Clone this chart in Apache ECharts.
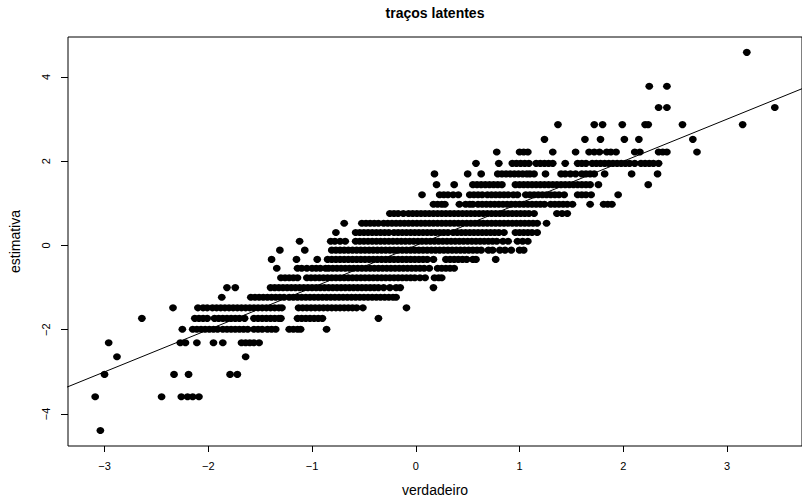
<!DOCTYPE html>
<html><head><meta charset="utf-8">
<script src="https://cdn.jsdelivr.net/npm/echarts@6/dist/echarts.min.js"></script>
<style>html,body{margin:0;padding:0;background:#fff}#c{width:802px;height:502px}</style>
</head><body><div id="c"></div>
<script>
const chartTitle = 'traços latentes';
const xName = 'verdadeiro';
const yName = 'estimativa';
const xTicks = [-3, -2, -1, 0, 1, 2, 3];
const yTicks = [-4, -2, 0, 2, 4];

// discrete estimate levels (estimativa) and the true values (verdadeiro) of the points at each level
const estimativaLevels = [4.585, 3.78, 3.275, 2.87, 2.52, 2.22, 1.95, 1.70, 1.445, 1.205, 0.98, 0.76, 0.53, 0.31, 0.10, -0.11, -0.33, -0.54, -0.765, -1.00, -1.23, -1.48, -1.73, -1.99, -2.31, -2.64, -3.06, -3.59, -4.39];
const verdadeiroPorNivel = [
  [3.19],
  [2.25, 2.42],
  [2.34, 2.42, 3.46],
  [1.37, 1.72, 1.80, 1.99, 2.21, 2.24, 2.57, 3.15],
  [1.24, 1.63, 1.78, 2.01, 2.15, 2.67],
  [0.78, 1.00, 1.04, 1.08, 1.32, 1.54, 1.67, 1.72, 1.77, 1.84, 1.88, 1.93, 2.11, 2.16, 2.34, 2.38, 2.42, 2.71],
  [0.58, 0.80, 0.93, 0.97, 1.01, 1.05, 1.09, 1.16, 1.20, 1.24, 1.28, 1.32, 1.44, 1.56, 1.60, 1.64, 1.70, 1.74, 1.78, 1.82, 1.86, 1.90, 1.94, 1.98, 2.02, 2.06, 2.11, 2.17, 2.21, 2.25, 2.29, 2.34],
  [0.18, 0.50, 0.63, 0.79, 0.83, 0.87, 0.91, 0.95, 0.99, 1.03, 1.07, 1.10, 1.14, 1.25, 1.40, 1.44, 1.49, 1.54, 1.60, 1.64, 1.68, 1.72, 1.82, 2.08, 2.33],
  [0.20, 0.37, 0.55, 0.59, 0.63, 0.67, 0.71, 0.75, 0.79, 0.83, 0.96, 1.00, 1.04, 1.08, 1.12, 1.16, 1.20, 1.24, 1.28, 1.32, 1.36, 1.40, 1.44, 1.48, 1.52, 1.56, 1.60, 1.64, 1.68, 1.76, 2.24],
  [0.06, 0.23, 0.27, 0.31, 0.36, 0.41, 0.52, 0.56, 0.60, 0.64, 0.69, 0.73, 0.77, 0.81, 0.85, 0.89, 0.94, 0.98, 1.06, 1.10, 1.14, 1.18, 1.22, 1.26, 1.30, 1.34, 1.38, 1.43, 1.56, 1.60, 1.64, 1.69, 1.95],
  [0.17, 0.21, 0.25, 0.28, 0.42, 0.48, 0.52, 0.55, 0.60, 0.64, 0.68, 0.72, 0.76, 0.80, 0.84, 0.88, 0.92, 0.96, 1.00, 1.04, 1.08, 1.12, 1.16, 1.20, 1.24, 1.30, 1.34, 1.38, 1.42, 1.46, 1.51, 1.68, 1.81, 1.85, 1.89],
  [-0.25, -0.21, -0.17, -0.12, -0.07, -0.03, 0.01, 0.05, 0.09, 0.13, 0.17, 0.21, 0.25, 0.29, 0.33, 0.37, 0.41, 0.45, 0.49, 0.53, 0.57, 0.61, 0.65, 0.69, 0.73, 0.77, 0.81, 0.85, 0.89, 0.93, 0.97, 1.01, 1.05, 1.09, 1.14, 1.36, 1.41, 1.46],
  [-0.69, -0.52, -0.48, -0.44, -0.40, -0.36, -0.31, -0.27, -0.23, -0.19, -0.15, -0.11, -0.07, -0.03, 0.01, 0.05, 0.09, 0.13, 0.17, 0.21, 0.25, 0.29, 0.33, 0.37, 0.41, 0.45, 0.49, 0.53, 0.57, 0.61, 0.65, 0.69, 0.73, 0.77, 0.81, 0.85, 0.89, 0.93, 0.97, 1.01, 1.05, 1.09, 1.13, 1.17, 1.26],
  [-0.77, -0.58, -0.54, -0.50, -0.46, -0.42, -0.38, -0.34, -0.30, -0.26, -0.21, -0.17, -0.13, -0.09, -0.05, -0.01, 0.03, 0.07, 0.11, 0.15, 0.19, 0.23, 0.27, 0.31, 0.36, 0.40, 0.44, 0.48, 0.52, 0.56, 0.60, 0.64, 0.68, 0.72, 0.76, 0.80, 0.85, 0.96, 1.00, 1.04, 1.08, 1.12, 1.17],
  [-1.12, -0.82, -0.78, -0.73, -0.68, -0.58, -0.54, -0.50, -0.46, -0.42, -0.38, -0.34, -0.30, -0.26, -0.22, -0.18, -0.14, -0.10, -0.06, -0.02, 0.02, 0.06, 0.10, 0.14, 0.18, 0.22, 0.26, 0.30, 0.34, 0.38, 0.42, 0.46, 0.50, 0.54, 0.58, 0.62, 0.66, 0.70, 0.74, 0.78, 0.84, 0.89, 0.98, 1.03, 1.08],
  [-1.31, -1.07, -0.81, -0.77, -0.73, -0.69, -0.65, -0.61, -0.57, -0.53, -0.49, -0.45, -0.41, -0.37, -0.33, -0.29, -0.25, -0.21, -0.17, -0.13, -0.09, -0.05, -0.01, 0.03, 0.07, 0.11, 0.15, 0.19, 0.23, 0.27, 0.31, 0.35, 0.39, 0.43, 0.47, 0.51, 0.55, 0.59, 0.63, 0.70, 0.74, 0.81, 0.86, 0.92, 1.00, 1.04],
  [-1.39, -1.15, -0.95, -0.85, -0.81, -0.77, -0.73, -0.69, -0.65, -0.61, -0.57, -0.53, -0.49, -0.45, -0.41, -0.37, -0.33, -0.29, -0.25, -0.21, -0.17, -0.13, -0.09, -0.05, -0.01, 0.03, 0.07, 0.11, 0.17, 0.29, 0.33, 0.37, 0.41, 0.45, 0.49, 0.55, 0.58, 0.77],
  [-1.34, -1.14, -1.10, -1.05, -1.00, -0.96, -0.92, -0.87, -0.84, -0.80, -0.76, -0.72, -0.68, -0.64, -0.60, -0.56, -0.52, -0.48, -0.44, -0.40, -0.36, -0.32, -0.28, -0.24, -0.20, -0.16, -0.12, -0.08, -0.04, 0.00, 0.04, 0.08, 0.13, 0.21, 0.25, 0.29, 0.33, 0.37],
  [-1.30, -1.26, -1.22, -1.18, -1.14, -1.05, -1.01, -0.97, -0.93, -0.89, -0.85, -0.81, -0.77, -0.73, -0.69, -0.65, -0.61, -0.57, -0.53, -0.49, -0.45, -0.41, -0.37, -0.33, -0.29, -0.25, -0.21, -0.17, -0.13, -0.09, -0.05, -0.01, 0.04, 0.09, 0.18, 0.22, 0.25],
  [-1.82, -1.74, -1.40, -1.36, -1.32, -1.28, -1.24, -1.20, -1.16, -1.12, -1.08, -1.04, -1.00, -0.96, -0.92, -0.88, -0.84, -0.80, -0.76, -0.72, -0.68, -0.64, -0.60, -0.56, -0.52, -0.48, -0.44, -0.40, -0.36, -0.31, -0.25, -0.19, -0.15, 0.17],
  [-1.87, -1.59, -1.55, -1.51, -1.47, -1.43, -1.39, -1.35, -1.31, -1.27, -1.22, -1.18, -1.14, -1.10, -1.06, -1.02, -0.98, -0.94, -0.90, -0.86, -0.82, -0.78, -0.74, -0.70, -0.66, -0.62, -0.58, -0.54, -0.50, -0.46, -0.42, -0.38, -0.34, -0.30, -0.26, -0.22, -0.19],
  [-2.34, -2.10, -2.05, -2.01, -1.96, -1.92, -1.88, -1.84, -1.80, -1.76, -1.72, -1.68, -1.64, -1.60, -1.56, -1.52, -1.48, -1.44, -1.40, -1.36, -1.32, -1.29, -1.13, -1.09, -1.05, -1.01, -0.97, -0.93, -0.89, -0.85, -0.81, -0.77, -0.73, -0.69, -0.65, -0.61, -0.57, -0.51, -0.09],
  [-2.64, -2.13, -2.09, -2.05, -2.01, -1.94, -1.90, -1.86, -1.82, -1.78, -1.74, -1.70, -1.65, -1.56, -1.52, -1.48, -1.44, -1.40, -1.36, -1.32, -1.30, -1.14, -1.10, -1.06, -1.02, -0.98, -0.94, -0.90, -0.36],
  [-2.25, -2.15, -2.11, -2.07, -2.03, -1.99, -1.95, -1.91, -1.86, -1.82, -1.78, -1.74, -1.70, -1.66, -1.62, -1.56, -1.52, -1.48, -1.43, -1.39, -1.35, -1.22, -1.18, -1.14, -1.11, -0.86],
  [-2.96, -2.27, -2.22, -2.11, -1.95, -1.86, -1.68, -1.64, -1.60, -1.56, -1.51],
  [-2.88, -1.64],
  [-3.00, -2.33, -2.19, -1.79, -1.72],
  [-3.09, -2.45, -2.26, -2.20, -2.15, -2.09],
  [-3.04]
];

// reference line y = intercept + slope * x (abline(0, 1))
const refIntercept = 0;
const refSlope = 1;
const refLineX = [-3.4, 3.8];

const points = [];
estimativaLevels.forEach((est, i) => {
  verdadeiroPorNivel[i].forEach(v => points.push([v, est]));
});
const refLine = refLineX.map(x => [x, refIntercept + refSlope * x]);

const FONT = '"Liberation Sans", Arial, Helvetica, sans-serif';
const fmt = v => (v < 0 ? '\u2212' + Math.abs(v) : String(v));

const chart = echarts.init(document.getElementById('c'), null, { renderer: 'svg' });
chart.setOption({
  animation: false,
  backgroundColor: '#ffffff',
  title: {
    text: chartTitle,
    left: 435,
    top: 6,
    padding: 0,
    textAlign: 'center',
    textStyle: { fontFamily: FONT, fontSize: 14, fontWeight: 'bold', color: '#000' }
  },
  grid: {
    left: 66, top: 37, width: 739, height: 416,
    show: true, borderColor: '#000', borderWidth: 1, backgroundColor: 'transparent'
  },
  xAxis: {
    type: 'value',
    position: 'bottom',
    min: -3.352, max: 3.722,
    name: xName,
    nameLocation: 'middle',
    nameGap: 37,
    nameTextStyle: { fontFamily: FONT, fontSize: 14, color: '#000' },
    axisLine: { show: false, onZero: false },
    splitLine: { show: false },
    axisTick: { show: true, length: 6, customValues: xTicks, lineStyle: { color: '#000', width: 1 } },
    axisLabel: { customValues: xTicks, formatter: fmt, margin: 14, fontFamily: FONT, fontSize: 11, color: '#000' }
  },
  yAxis: {
    type: 'value',
    position: 'left',
    min: -4.76, max: 4.95,
    name: yName,
    nameLocation: 'middle',
    nameRotate: 90,
    nameGap: 46,
    nameTextStyle: { fontFamily: FONT, fontSize: 14, color: '#000' },
    axisLine: { show: false, onZero: false },
    splitLine: { show: false },
    axisTick: { show: true, length: 7, customValues: yTicks, lineStyle: { color: '#000', width: 1 } },
    axisLabel: { customValues: yTicks, formatter: fmt, rotate: 90, margin: 17, fontFamily: FONT, fontSize: 11, color: '#000' }
  },
  series: [
    {
      type: 'scatter',
      data: points,
      symbol: 'circle',
      symbolSize: [7.8, 7],
      itemStyle: { color: '#000', opacity: 1 },
      silent: true
    },
    {
      type: 'line',
      data: refLine,
      showSymbol: false,
      clip: true,
      lineStyle: { color: '#000', width: 1 },
      silent: true
    }
  ]
});
</script>
</body></html>
